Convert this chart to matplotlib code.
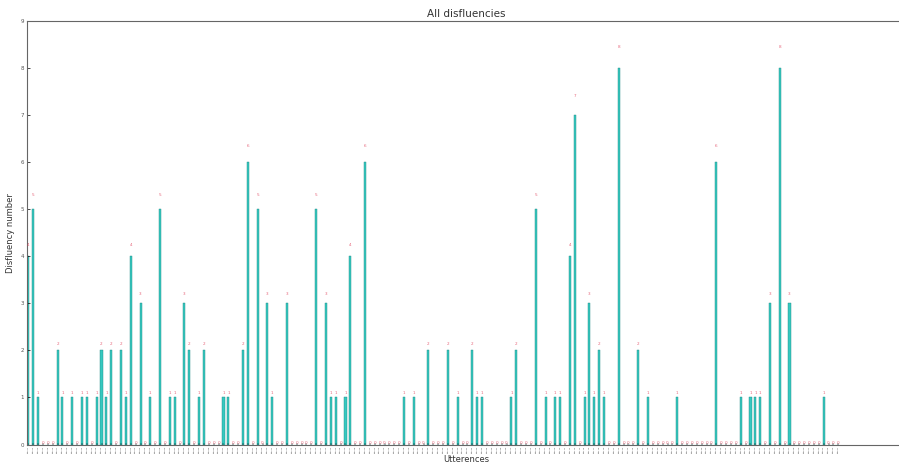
import numpy as np
import matplotlib
matplotlib.use("Agg")
import matplotlib.pyplot as plt

# disfluency count per utterance
counts = [4, 5, 1, 0, 0, 0, 2, 1, 0, 1,
          0, 1, 1, 0, 1, 2, 1, 2, 0, 2,
          1, 4, 0, 3, 0, 1, 0, 5, 0, 1,
          1, 0, 3, 2, 0, 1, 2, 0, 0, 0,
          1, 1, 0, 0, 2, 6, 0, 5, 0, 3,
          1, 0, 0, 3, 0, 0, 0, 0, 0, 5,
          0, 3, 1, 1, 0, 1, 4, 0, 0, 6,
          0, 0, 0, 0, 0, 0, 0, 1, 0, 1,
          0, 0, 2, 0, 0, 0, 2, 0, 1, 0,
          0, 2, 1, 1, 0, 0, 0, 0, 0, 1,
          2, 0, 0, 0, 5, 0, 1, 0, 1, 1,
          0, 4, 7, 0, 1, 3, 1, 2, 1, 0,
          0, 8, 0, 0, 0, 2, 0, 1, 0, 0,
          0, 0, 0, 1, 0, 0, 0, 0, 0, 0,
          0, 6, 0, 0, 0, 0, 1, 0, 1, 1,
          1, 0, 3, 0, 8, 0, 3, 0, 0, 0,
          0, 0, 0, 1, 0, 0, 0]
utterances = ["utt%03d" % (i + 1) for i in range(len(counts))]

width = 0.42
ind = np.arange(len(counts)) + 0.33

fig = plt.figure(figsize=(8.99, 4.67), dpi=100)
ax = fig.add_axes([0.0297, 0.048, 0.977, 0.9077])

rects = ax.bar(ind, counts, width, color="#36c8c0",
               edgecolor="#1f8a84", linewidth=0.3)

# value on top of every bar
for rect in rects:
    height = rect.get_height()
    ax.text(rect.get_x() + rect.get_width() / 2., 1.05 * height,
            "%d" % int(height), ha="center", va="bottom",
            color="#e0405a", fontsize=3, alpha=0.8)

ax.set_xlim(0, 180)
ax.set_ylim(0, 9)
ax.set_yticks(range(10))
ax.set_xticks(ind)
ax.set_xticklabels(utterances, rotation=90, fontsize=1.6, color="#555555")
ax.tick_params(axis="y", labelsize=4, direction="in", length=2, width=0.5,
               labelcolor="#555555", pad=2)
ax.tick_params(axis="x", direction="in", length=1.5, width=0.3, pad=1)
for s in ax.spines.values():
    s.set_color("#666666")
    s.set_linewidth(0.8)

ax.set_title("All disfluencies", fontsize=7.5, color="#333333", pad=3)
ax.set_xlabel("Utterences", fontsize=6, color="#333333", labelpad=1)
ax.set_ylabel("Disfluency number", fontsize=6, color="#333333", labelpad=4)

fig.savefig("out.png", dpi=100)
